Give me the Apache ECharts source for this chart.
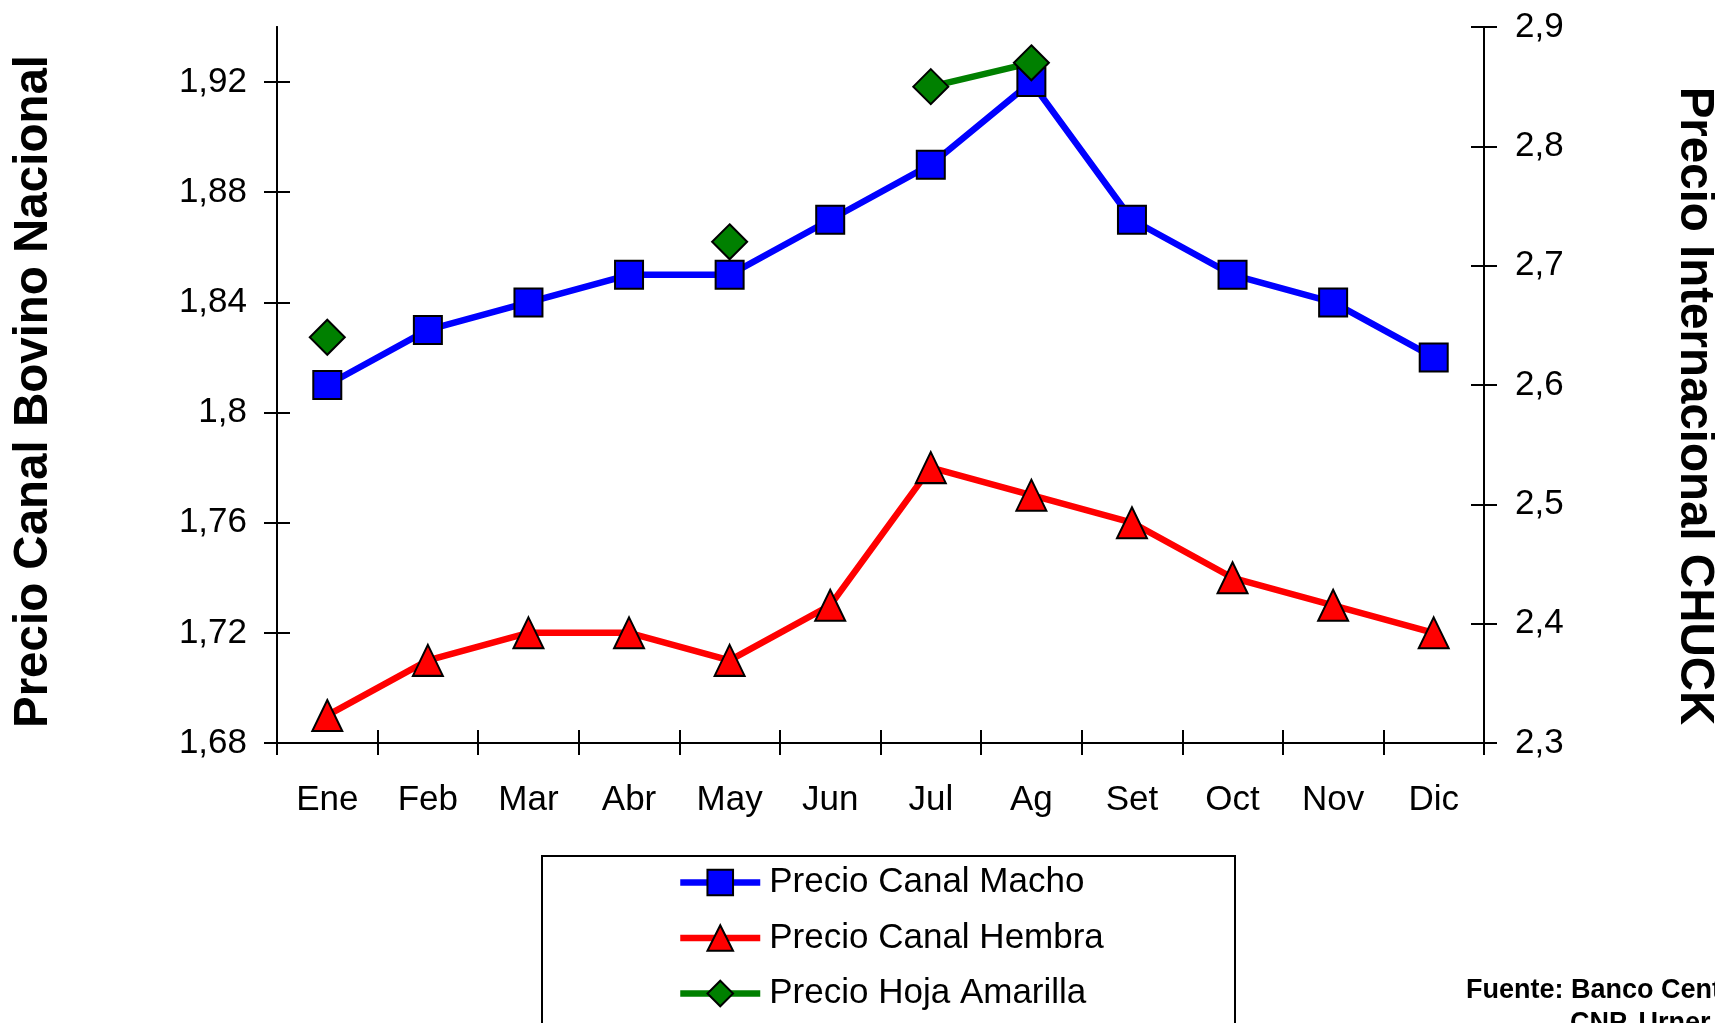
<!DOCTYPE html>
<html>
<head>
<meta charset="utf-8">
<script src="https://cdn.jsdelivr.net/npm/echarts@6/dist/echarts.min.js"></script>
<style>
html,body{margin:0;padding:0;background:#fff;}
#chart{width:1715px;height:1023px;}
</style>
</head>
<body>
<div id="chart"></div>
<script>
const months = ['Ene','Feb','Mar','Abr','May','Jun','Jul','Ag','Set','Oct','Nov','Dic'];
const canalMacho = [1.81,1.83,1.84,1.85,1.85,1.87,1.89,1.92,1.87,1.85,1.84,1.82];
const canalHembra = [1.69,1.71,1.72,1.72,1.71,1.73,1.78,1.77,1.76,1.74,1.73,1.72];
const hojaAmarilla = [2.64,null,null,null,2.72,null,2.85,2.87,null,null,null,null];
const leftTicks = [1.68,1.72,1.76,1.80,1.84,1.88,1.92];
const leftMin = 1.68, leftMax = 1.94;
const rightMin = 2.3, rightMax = 2.9, rightStep = 0.1;
const leftTitle = 'Precio Canal Bovino Nacional';
const rightTitle = 'Precio Internacional CHUCK';
const seriesNames = ['Precio Canal Macho','Precio Canal Hembra','Precio Hoja Amarilla'];
const sourceLines = ['Fuente: Banco Central','CNP, Urner Barry'];

const FF = '"Liberation Sans", Arial, sans-serif';
const black = '#000';
const fmt = (d) => (v) => Number(v).toFixed(d).replace(/0+$/,'').replace(/\.$/,'').replace('.', ',');
const blank = () => '';
const tickStyle = {color:black, width:2};
const axisLineStyle = {color:black, width:2};

const chart = echarts.init(document.getElementById('chart'), null, {renderer:'canvas'});
chart.setOption({
  animation:false,
  backgroundColor:'#fff',
  textStyle:{fontFamily:FF, color:black},
  grid:{left:277, right:231, top:27, bottom:280, outerBoundsMode:'none', containLabel:false},
  xAxis:[
    {type:'category', position:'bottom', data:months, boundaryGap:true,
     axisLine:{lineStyle:axisLineStyle},
     axisTick:{show:true, interval:0, length:12, lineStyle:tickStyle},
     axisLabel:{margin:40, fontSize:35, color:black, fontFamily:FF, interval:0},
     splitLine:{show:false}},
    {type:'category', position:'bottom', data:months, boundaryGap:true,
     axisLine:{show:true, lineStyle:axisLineStyle},
     axisTick:{show:true, interval:0, inside:true, length:13, lineStyle:tickStyle},
     axisLabel:{show:true, interval:0, formatter:blank}, splitLine:{show:false}}
  ],
  yAxis:[
    {type:'value', position:'left', min:leftMin, max:leftMax, interval:0.04,
     axisLine:{show:true, lineStyle:axisLineStyle},
     axisTick:{show:true, length:13, lineStyle:tickStyle, customValues:leftTicks},
     axisLabel:{margin:30, fontSize:35, color:black, fontFamily:FF, customValues:leftTicks, formatter:fmt(2)},
     splitLine:{show:false},
     name:leftTitle, nameLocation:'middle', nameGap:243, nameRotate:90,
     nameTextStyle:{fontSize:47.5, fontWeight:'bold', color:black, fontFamily:FF, verticalAlign:'middle', align:'center', padding:[0,13,0,0]}},
    {type:'value', position:'right', min:rightMin, max:rightMax, interval:rightStep,
     axisLine:{show:true, lineStyle:axisLineStyle},
     axisTick:{show:true, length:13, lineStyle:tickStyle},
     axisLabel:{margin:31, fontSize:35, color:black, fontFamily:FF, formatter:fmt(1)},
     splitLine:{show:false},
     name:rightTitle, nameLocation:'middle', nameGap:210, nameRotate:-90,
     nameTextStyle:{fontSize:47.5, fontWeight:'bold', color:black, fontFamily:FF, verticalAlign:'middle', align:'center', padding:[0,0,0,42]}},
    {type:'value', position:'left', min:leftMin, max:leftMax, interval:0.04,
     axisLine:{show:true, lineStyle:axisLineStyle},
     axisTick:{show:true, inside:true, length:13, lineStyle:tickStyle, customValues:leftTicks},
     axisLabel:{show:true, inside:true, customValues:leftTicks, formatter:blank}, splitLine:{show:false}},
    {type:'value', position:'right', min:rightMin, max:rightMax, interval:rightStep,
     axisLine:{show:true, lineStyle:axisLineStyle},
     axisTick:{show:true, inside:true, length:13, lineStyle:tickStyle},
     axisLabel:{show:true, inside:true, formatter:blank}, splitLine:{show:false}}
  ],
  legend:{
    orient:'vertical', left:677, top:865,
    padding:0, itemGap:20.5, itemWidth:80, itemHeight:32,
    lineStyle:{width:6.5},
    textStyle:{fontSize:35, color:black, fontFamily:FF, padding:[0,0,0,4]},
    data:seriesNames
  },
  series:[
    {name:seriesNames[0], type:'line', xAxisIndex:0, yAxisIndex:0, data:canalMacho,
     symbol:'rect', symbolSize:28,
     lineStyle:{color:'#0000FF', width:6.5},
     itemStyle:{color:'#0000FF', borderColor:black, borderWidth:2}},
    {name:seriesNames[1], type:'line', xAxisIndex:0, yAxisIndex:0, data:canalHembra,
     symbol:'triangle', symbolSize:[30,31],
     lineStyle:{color:'#FF0000', width:6.5},
     itemStyle:{color:'#FF0000', borderColor:black, borderWidth:2}},
    {name:seriesNames[2], type:'line', xAxisIndex:0, yAxisIndex:1, data:hojaAmarilla,
     symbol:'diamond', symbolSize:35, connectNulls:false,
     lineStyle:{color:'#008000', width:6.5},
     itemStyle:{color:'#008000', borderColor:black, borderWidth:2}}
  ],
  graphic:[
    {type:'rect', silent:true, z:-1, shape:{x:542, y:856, width:693, height:220}, style:{fill:'#fff', stroke:black, lineWidth:2}},
    {type:'text', x:1466, y:991, style:{text:sourceLines[0], font:'bold 27px ' + FF, fill:black, align:'left', verticalAlign:'middle'}},
    {type:'text', x:1570, y:1024, style:{text:sourceLines[1], font:'bold 27px ' + FF, fill:black, align:'left', verticalAlign:'middle'}}
  ]
});
</script>
</body>
</html>
